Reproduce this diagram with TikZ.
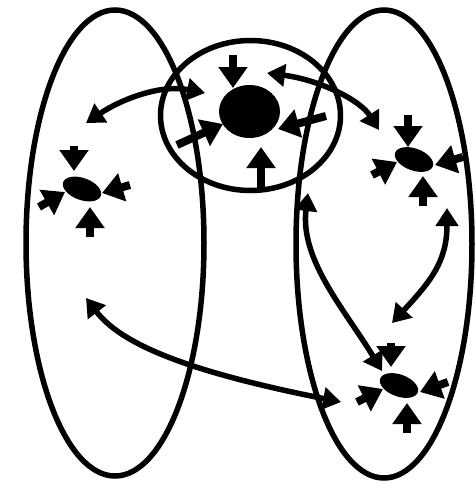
\documentclass[tikz,border=0pt]{standalone}
\usetikzlibrary{arrows.meta,shapes.geometric}
\begin{document}
\begin{tikzpicture}[x=1pt,y=-1pt,
  ring/.style={draw,line width=5.5pt,ellipse,inner sep=0pt},
  blob/.style={fill=black,ellipse,inner sep=0pt},
  curvearrow/.style={line width=5.5pt,{Triangle[length=18pt,width=22pt]}-{Triangle[length=18pt,width=22pt]}},
  stubarrow/.style={line width=8pt,-{Triangle[length=21pt,width=28pt]}}]
\useasboundingbox (0,0) rectangle (476,483);
% big rings
\node[ring,minimum width=178pt,minimum height=466pt] (leftring) at (115,243) {};
\node[ring,minimum width=176pt,minimum height=468pt] (rightring) at (384,244) {};
\node[ring,minimum width=180pt,minimum height=150pt] (midring) at (250.5,115.5) {};
% blobs
\node[blob,minimum width=61pt,minimum height=53pt] (core) at (249.5,111.5) {};
\node[blob,minimum width=40pt,minimum height=22pt,rotate=-20] (sl) at (82,189) {};
\node[blob,minimum width=40pt,minimum height=22pt,rotate=-20] (sr) at (414,159.5) {};
\node[blob,minimum width=40pt,minimum height=22pt,rotate=-20] (sb) at (399,385.5) {};
% core stubs
\coordinate (c1s) at (233,55);  \coordinate (c1t) at (233,88);
\coordinate (c2s) at (261,190); \coordinate (c2t) at (261,147);
\coordinate (c3s) at (177,145); \coordinate (c3t) at (223,124);
\coordinate (c4s) at (326,116); \coordinate (c4t) at (278,129);
\foreach \i in {1,2,3,4} \draw[stubarrow] (c\i s) -- (c\i t);
% left small stubs
\coordinate (l1s) at (74,146);  \coordinate (l1t) at (74,171);
\coordinate (l2s) at (90,237);  \coordinate (l2t) at (90,207);
\coordinate (l3s) at (39,207);  \coordinate (l3t) at (65,192);
\coordinate (l4s) at (130,185); \coordinate (l4t) at (102,193);
% right small stubs
\coordinate (r1s) at (408,115); \coordinate (r1t) at (408,147);
\coordinate (r2s) at (423,206); \coordinate (r2t) at (423,176);
\coordinate (r3s) at (372,175); \coordinate (r3t) at (397,162);
\coordinate (r4s) at (463,157); \coordinate (r4t) at (435,165);
% bottom small stubs
\coordinate (b1s) at (391,343); \coordinate (b1t) at (391,367);
\coordinate (b2s) at (407,433); \coordinate (b2t) at (407,403);
\coordinate (b3s) at (357,402); \coordinate (b3t) at (383,389);
\coordinate (b4s) at (448,382); \coordinate (b4t) at (420,392);
\foreach \p in {l,r,b}{\foreach \i in {1,2,3,4} \draw[stubarrow] (\p\i s) -- (\p\i t);}
% curved double arrows
\coordinate (a1) at (86,123);  \coordinate (a2) at (205,93);
\draw[curvearrow] (a1) .. controls (120,100) and (160,84) .. (a2);
\coordinate (b1) at (267,73);  \coordinate (b2) at (379,130);
\draw[curvearrow] (b1) .. controls (320,80) and (360,100) .. (b2);
\coordinate (d1) at (447,208); \coordinate (d2) at (392,323);
\draw[curvearrow] (d1) .. controls (447,262) and (430,282) .. (d2);
\coordinate (e1) at (308,193); \coordinate (e2) at (382,371);
\draw[curvearrow] (e1) .. controls (300,260) and (345,310) .. (e2);
\coordinate (f1) at (86,298);  \coordinate (f2) at (341,402);
\draw[curvearrow] (f1) .. controls (122,345) and (190,372) .. (f2);
\end{tikzpicture}
\end{document}
